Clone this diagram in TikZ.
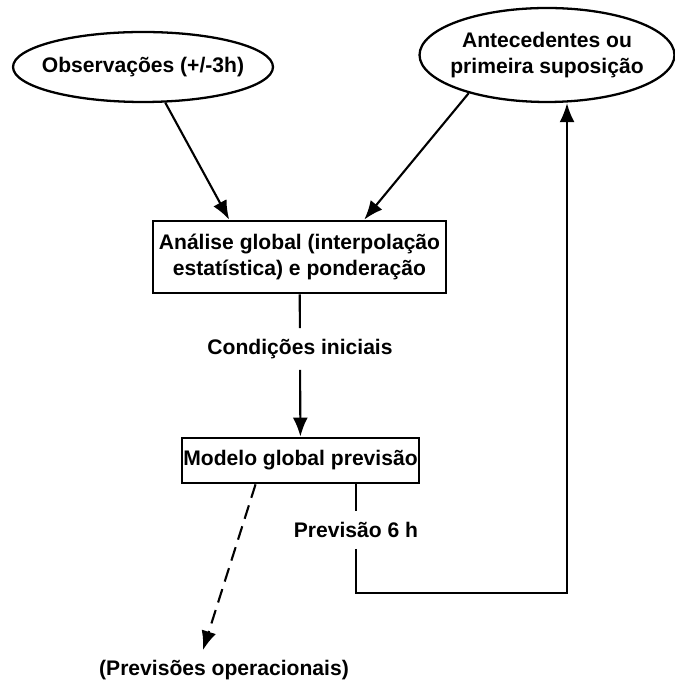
\documentclass[tikz,border=0pt]{standalone}
\usepackage{fontspec}
\setmainfont{Liberation Sans}
\usetikzlibrary{shapes.geometric,arrows.meta}

\tikzset{
  caixa/.style={rectangle, draw=black, line width=1.6pt, align=center, inner sep=0pt},
  nuvem/.style={ellipse, draw=black, line width=1.3pt, align=center, inner sep=0pt},
  rotulo/.style={inner sep=0.2cm, align=center},
}

\begin{document}
\begin{tikzpicture}[x=0.02cm, y=-0.02cm, font=\fontsize{12}{14.6}\selectfont\bfseries,
  line width=1.2pt, >={Latex[length=0.38cm,width=0.3cm]}]
\useasboundingbox (0,0) rectangle (674,688);

\node[nuvem, inner xsep=-0.2cm, minimum width=5.2cm, minimum height=1.4cm] (obs) at (143,67) {Observações (+/-3h)};
\node[nuvem, inner xsep=-0.15cm, minimum width=5.1cm, minimum height=1.88cm] (antec) at (547,55) {Antecedentes ou\\primeira suposição};
\node[caixa, minimum width=5.86cm, minimum height=1.44cm] (analise) at (299.5,257) {Análise global (interpolação\\estatística) e ponderação};
\node[rotulo] (cond) at (300,349) {Condições iniciais};
\node[caixa, minimum width=4.74cm, minimum height=0.9cm] (modelo) at (300.5,460.5) {Modelo global previsão};
\node[rotulo] (prev6) at (356,530) {Previsão 6 h};
\node[rotulo] (oper) at (224,670) {(Previsões operacionais)};
\coordinate (canto) at (567,593);
\coordinate (fim) at (203,650);

\draw[->] (obs.-58.6) -- (analise.152);
\draw[->] (antec.206) -- (analise.30);
\draw (analise) -- (cond);
\draw[->] (cond) -- (modelo);
\draw[->, dash pattern=on 8pt off 4.5pt] (modelo.208) -- (fim);
\draw (modelo.south -| prev6) -- (prev6);
\draw[->] (prev6) |- (canto) -- (canto |- antec.south);
\end{tikzpicture}
\end{document}
